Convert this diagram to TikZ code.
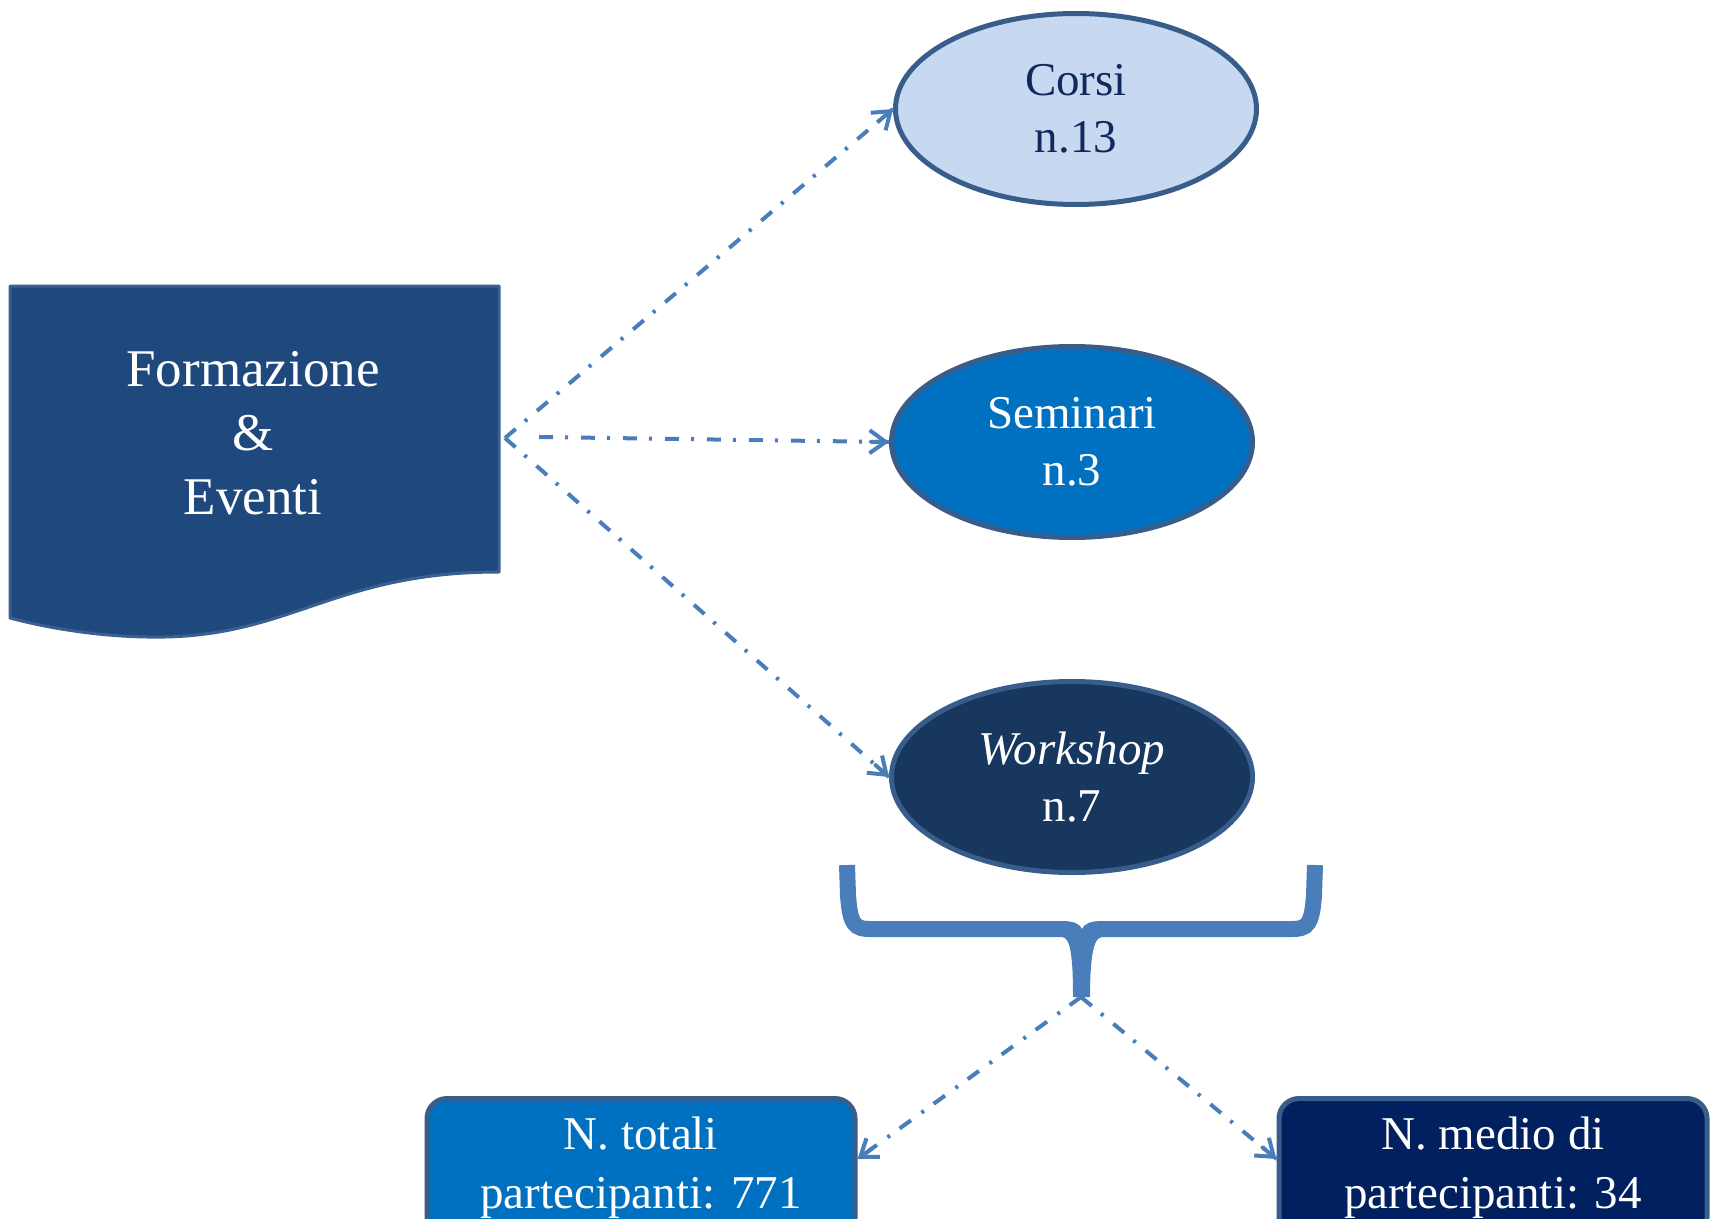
\documentclass[tikz,border=0pt]{standalone}
\usepackage{fontspec}
\setmainfont{Liberation Serif}
\usetikzlibrary{arrows.meta,shapes.geometric,calc}
\definecolor{docfill}{HTML}{1F497D}
\definecolor{docline}{HTML}{3A6090}
\definecolor{edge}{HTML}{385D8A}
\definecolor{corsifill}{HTML}{C6D9F1}
\definecolor{corsitext}{HTML}{10295C}
\definecolor{semfill}{HTML}{0070C0}
\definecolor{workfill}{HTML}{17375E}
\definecolor{medfill}{HTML}{002060}
\definecolor{conn}{HTML}{4A7EBB}
\tikzset{
  ell/.style={ellipse, draw=edge, line width=5pt, minimum width=361pt, minimum height=191pt,
    inner sep=0pt, align=center, font={\fontsize{47}{57}\selectfont}},
  resbox/.style={rectangle, rounded corners=20pt, draw=edge, line width=5pt, minimum width=428pt,
    minimum height=139pt, inner sep=0pt, align=center, text=white, font={\fontsize{47}{59}\selectfont}},
  dashline/.style={draw=conn, line width=4pt,
    dash pattern=on 14pt off 12pt on 3pt off 13pt},
  tipline/.style={draw=conn, line width=4pt, solid, line cap=round, line join=round,
    -{Straight Barb[length=16pt,width=23pt]}},
  bracepart/.style={draw=conn, line width=16pt}
}
\begin{document}
\begin{tikzpicture}[x=1pt,y=1pt]
\useasboundingbox (0,0) rectangle (1713,-1218);
\clip (0,0) rectangle (1713,-1218);
% document shape
\draw[fill=docfill, draw=docline, line width=3pt, line join=round]
  (10,-286) -- (499,-286) -- (499,-572)
  .. controls (330,-572) and (290,-640) .. (147,-637)
  .. controls (90,-636) and (40,-626) .. (10,-618) -- cycle;
\node[text=white, align=center, font={\fontsize{53}{64}\selectfont}] (doc) at (253,-433)
  {Formazione\\\&\\Eventi};
% ellipses
\node[ell, fill=corsifill, text=corsitext] (corsi) at (1076,-109) {Corsi\\n.13};
\node[ell, fill=semfill, text=white] (sem) at (1072,-442) {Seminari\\n.3};
\node[ell, fill=workfill, text=white] (work) at (1072,-777) {\itshape Workshop\\n.7};
% connectors from the document
\coordinate (src) at (505,-438);
\coordinate (srcm) at (539,-437);
\draw[dashline] (src) -- (corsi.west);
\draw[tipline] ($(corsi.west)!18pt!(src)$) -- (corsi.west);
\draw[dashline] (srcm) -- (sem.west);
\draw[tipline] ($(sem.west)!18pt!(srcm)$) -- (sem.west);
\draw[dashline] (src) -- (work.west);
\draw[tipline] ($(work.west)!18pt!(src)$) -- (work.west);
% brace
\draw[bracepart] (847,-865) -- (848,-895) .. controls (850,-925) and (855,-929) .. (870,-929) -- (1064,-929);
\draw[bracepart] (1315,-865) -- (1314,-895) .. controls (1312,-925) and (1307,-929) .. (1292,-929) -- (1098,-929);
\fill[conn] (1062,-921) .. controls (1074,-921) and (1080,-924) .. (1082,-929)
  .. controls (1084,-924) and (1090,-921) .. (1102,-921) -- (1102,-937)
  .. controls (1093,-937) and (1090,-960) .. (1090,-997) -- (1073,-997)
  .. controls (1073,-960) and (1071,-937) .. (1062,-937) -- cycle;
\coordinate (brtip) at (1081,-997);
% result boxes
\node[resbox, fill=semfill] (tot) at (641,-1168) {N. totali\\partecipanti: 771};
\node[resbox, fill=medfill] (med) at (1493,-1168) {N. medio di\\partecipanti: 34};
\coordinate (totin) at ([yshift=9pt]tot.east);
\coordinate (medin) at ([yshift=9pt]med.west);
\draw[dashline] (brtip) -- (totin);
\draw[tipline] ($(totin)!18pt!(brtip)$) -- (totin);
\draw[dashline] (brtip) -- (medin);
\draw[tipline] ($(medin)!18pt!(brtip)$) -- (medin);
\end{tikzpicture}
\end{document}
